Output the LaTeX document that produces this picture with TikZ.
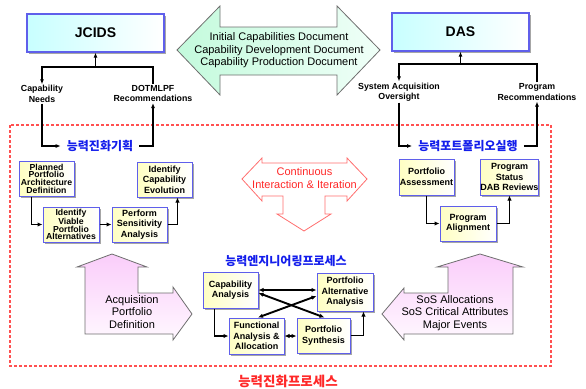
\documentclass[tikz,border=0pt]{standalone}
\usepackage{fontspec}
\setmainfont{Liberation Sans}
\newfontfamily\krfont{Noto Sans CJK KR}
\usetikzlibrary{arrows.meta,shadows}

\definecolor{boxedge}{RGB}{95,95,235}
\definecolor{cyanfill}{RGB}{200,255,255}
\definecolor{yelfill}{RGB}{255,255,195}
\definecolor{mintfill}{RGB}{195,250,220}
\definecolor{mintlight}{RGB}{240,255,248}
\definecolor{pinktop}{RGB}{250,205,250}
\definecolor{pinkbot}{RGB}{255,248,255}
\definecolor{arrowedge}{RGB}{110,110,110}
\definecolor{krblue}{RGB}{20,30,235}
\definecolor{dashred}{RGB}{255,80,80}
\definecolor{ctext}{RGB}{255,40,40}
\definecolor{carrow}{RGB}{255,110,110}

\tikzset{
  sysbox/.style={draw=boxedge, line width=1.2pt, left color=cyanfill, right color=white,
    minimum width=137pt, minimum height=38pt, inner sep=0pt,
    font=\fontsize{14}{16}\selectfont\bfseries,
    drop shadow={shadow xshift=1.8pt, shadow yshift=-1.8pt, fill=black!35, opacity=1}},
  actbox/.style={draw=boxedge, line width=1pt, left color=yelfill, right color=white,
    minimum width=55pt, minimum height=35pt, inner sep=0pt, align=center,
    font=\fontsize{9}{10.5}\selectfont\bfseries,
    drop shadow={shadow xshift=1.8pt, shadow yshift=-1.8pt, fill=black!35, opacity=1}},
  tight/.style={font=\fontsize{8.7}{7.6}\selectfont\bfseries},
  flowlabel/.style={align=center, inner sep=1pt, font=\fontsize{8.8}{10.5}\selectfont\bfseries},
  krtitle/.style={inner sep=0pt, text=krblue, font=\krfont\fontsize{12}{14}\selectfont\bfseries},
  thinlink/.style={line width=1.1pt, -{Latex[length=5pt,width=4pt]}},
  thicklink/.style={line width=1.9pt, -{Latex[length=5pt,width=4.5pt]}},
  bothlink/.style={line width=1.9pt, {Latex[length=5pt,width=4.5pt]}-{Latex[length=5pt,width=4.5pt]}},
  bigarrow/.style={draw=arrowedge, line width=0.8pt, line join=miter},
  arrowtext/.style={align=center, inner sep=0pt, font=\fontsize{11}{12.6}\selectfont}
}

\begin{document}
\begin{tikzpicture}[x=1pt, y=-1pt]
\useasboundingbox (0,0) rectangle (586,388);

% process boundary
\draw[dashred, line width=1.2pt, dash pattern=on 3pt off 2pt] (10,125) rectangle (551,366);

% document exchange arrow between the two systems
\path[bigarrow, left color=mintfill, right color=mintlight]
  (177,50) -- (220,6) -- (220,27) -- (337,27) -- (337,6) -- (380,50)
  -- (337,95) -- (337,75) -- (220,75) -- (220,95) -- cycle;
\node[arrowtext] (docs) at (279,50.5) {Initial Capabilities Document\\Capability Development Document\\Capability Production Document};

% JCIDS side
\node[sysbox] (jcids) at (95.5,33) {JCIDS};
\node[flowlabel] (capneeds) at (42,94) {Capability\\Needs};
\node[flowlabel] (dotmlpf) at (153,93.5) {DOTMLPF\\Recommendations};
\coordinate (jbus) at (95.5,67);
\draw[thinlink] (jbus) -- (jcids.south);
\draw[thinlink] (dotmlpf.north) |- (jbus) -| (capneeds.north);
\node[krtitle] (plan) at (100,146) {능력진화기획};
\draw[thinlink] (capneeds.south) |- ([xshift=-6pt]plan.west);
\draw[thinlink] ([xshift=6pt]plan.east) -| (dotmlpf.south);

% DAS side
\node[sysbox] (das) at (460.5,32) {DAS};
\node[flowlabel] (sao) at (399,92) {System Acquisition\\Oversight};
\node[flowlabel] (progrec) at (537,92) {Program\\Recommendations};
\coordinate (dbus) at (460.5,64);
\draw[thinlink] (dbus) -- (das.south);
\draw[thinlink] (progrec.north) |- (dbus) -| (sao.north);
\node[krtitle] (exec) at (468,146) {능력포트폴리오실행};
\draw[thinlink] (sao.south) |- ([xshift=-6pt]exec.west);
\draw[thinlink] ([xshift=6pt]exec.east) -| (progrec.south);

% capability evolution planning
\node[actbox, tight] (planned) at (46.5,178.5) {Planned\\Portfolio\\Architecture\\Definition};
\node[actbox] (evol) at (164.5,179.5) {Identify\\Capability\\Evolution};
\node[actbox, tight, minimum width=56pt] (viable) at (71,224.5) {Identify\\Viable\\Portfolio\\Alternatives};
\node[actbox] (sens) at (139.5,224.5) {Perform\\Sensitivity\\Analysis};
\draw[thicklink] ([xshift=13pt]planned.south west) |- (viable.west);
\draw[thicklink] (viable.east) -- (sens.west);
\draw[thicklink] (sens.east) -| ([xshift=-15pt]evol.south east);

% portfolio execution
\node[actbox, minimum height=36pt] (assess) at (426.5,177) {Portfolio\\Assessment};
\node[actbox, minimum height=36pt] (status) at (509.5,177) {Program\\Status\\DAB Reviews};
\node[actbox, minimum width=56pt] (align) at (468,223.5) {Program\\Alignment};
\draw[thicklink] (assess.south) |- (align.west);
\draw[thicklink] (align.east) -| (status.south);

% continuous interaction and iteration
\path[draw=carrow, line width=0.8pt, fill=white, line join=miter]
  (242,179) -- (262,158) -- (262,163) -- (347,163) -- (347,158) -- (367,179)
  -- (347,201) -- (347,196) -- (325,196) -- (325,214) -- (331,214) -- (304,231)
  -- (277,214) -- (283,214) -- (283,196) -- (262,196) -- (262,201) -- cycle;
\node[arrowtext, text=ctext] (iter) at (304.5,178) {Continuous\\Interaction \& Iteration};

% capability engineering process
\node[krtitle] (eng) at (286,261) {능력엔지니어링프로세스};
\node[actbox, minimum height=36pt] (capan) at (230.5,290) {Capability\\Analysis};
\node[actbox, minimum width=56pt, minimum height=38pt] (altan) at (345,292) {Portfolio\\Alternative\\Analysis};
\node[actbox, minimum height=36pt] (func) at (256.5,336) {Functional\\Analysis \&\\Allocation};
\node[actbox, minimum width=53pt] (synth) at (323.5,335.5) {Portfolio\\Synthesis};
\draw[bothlink] (capan.east) -- (capan.east -| altan.west);
\draw[bothlink] ([yshift=-3pt]capan.east) -- ([xshift=1pt]synth.north);
\draw[bothlink] ([yshift=-4pt]altan.west) -- ([xshift=1.5pt]func.north);
\draw[thicklink] ([xshift=12pt]capan.south west) |- (func.west);
\draw[bothlink] (func.east) -- (func.east -| synth.west);
\draw[thicklink] (synth.east) -| ([xshift=-10pt]altan.south east);

% acquisition portfolio definition
\path[bigarrow, top color=pinktop, bottom color=pinkbot]
  (112,254) -- (147,267) -- (138,267) -- (138,293) -- (173,293) -- (173,287)
  -- (192,314) -- (173,340) -- (173,334) -- (85,334) -- (85,267) -- (77,267) -- cycle;
\node[arrowtext] (acq) at (132,312) {Acquisition\\Portfolio\\Definition};

% SoS allocations
\path[bigarrow, top color=pinktop, bottom color=pinkbot]
  (480,254) -- (523,267) -- (513,267) -- (513,334) -- (404,334) -- (404,340)
  -- (382,314) -- (404,288) -- (404,293) -- (448,293) -- (448,267) -- (437,267) -- cycle;
\node[arrowtext] (sos) at (455,313) {SoS Allocations\\SoS Critical Attributes\\Major Events};

% overall process name
\node[inner sep=0pt, text=ctext, font=\krfont\fontsize{13.5}{15}\selectfont\bfseries] (evolproc) at (288,381) {능력진화프로세스};
\end{tikzpicture}
\end{document}
